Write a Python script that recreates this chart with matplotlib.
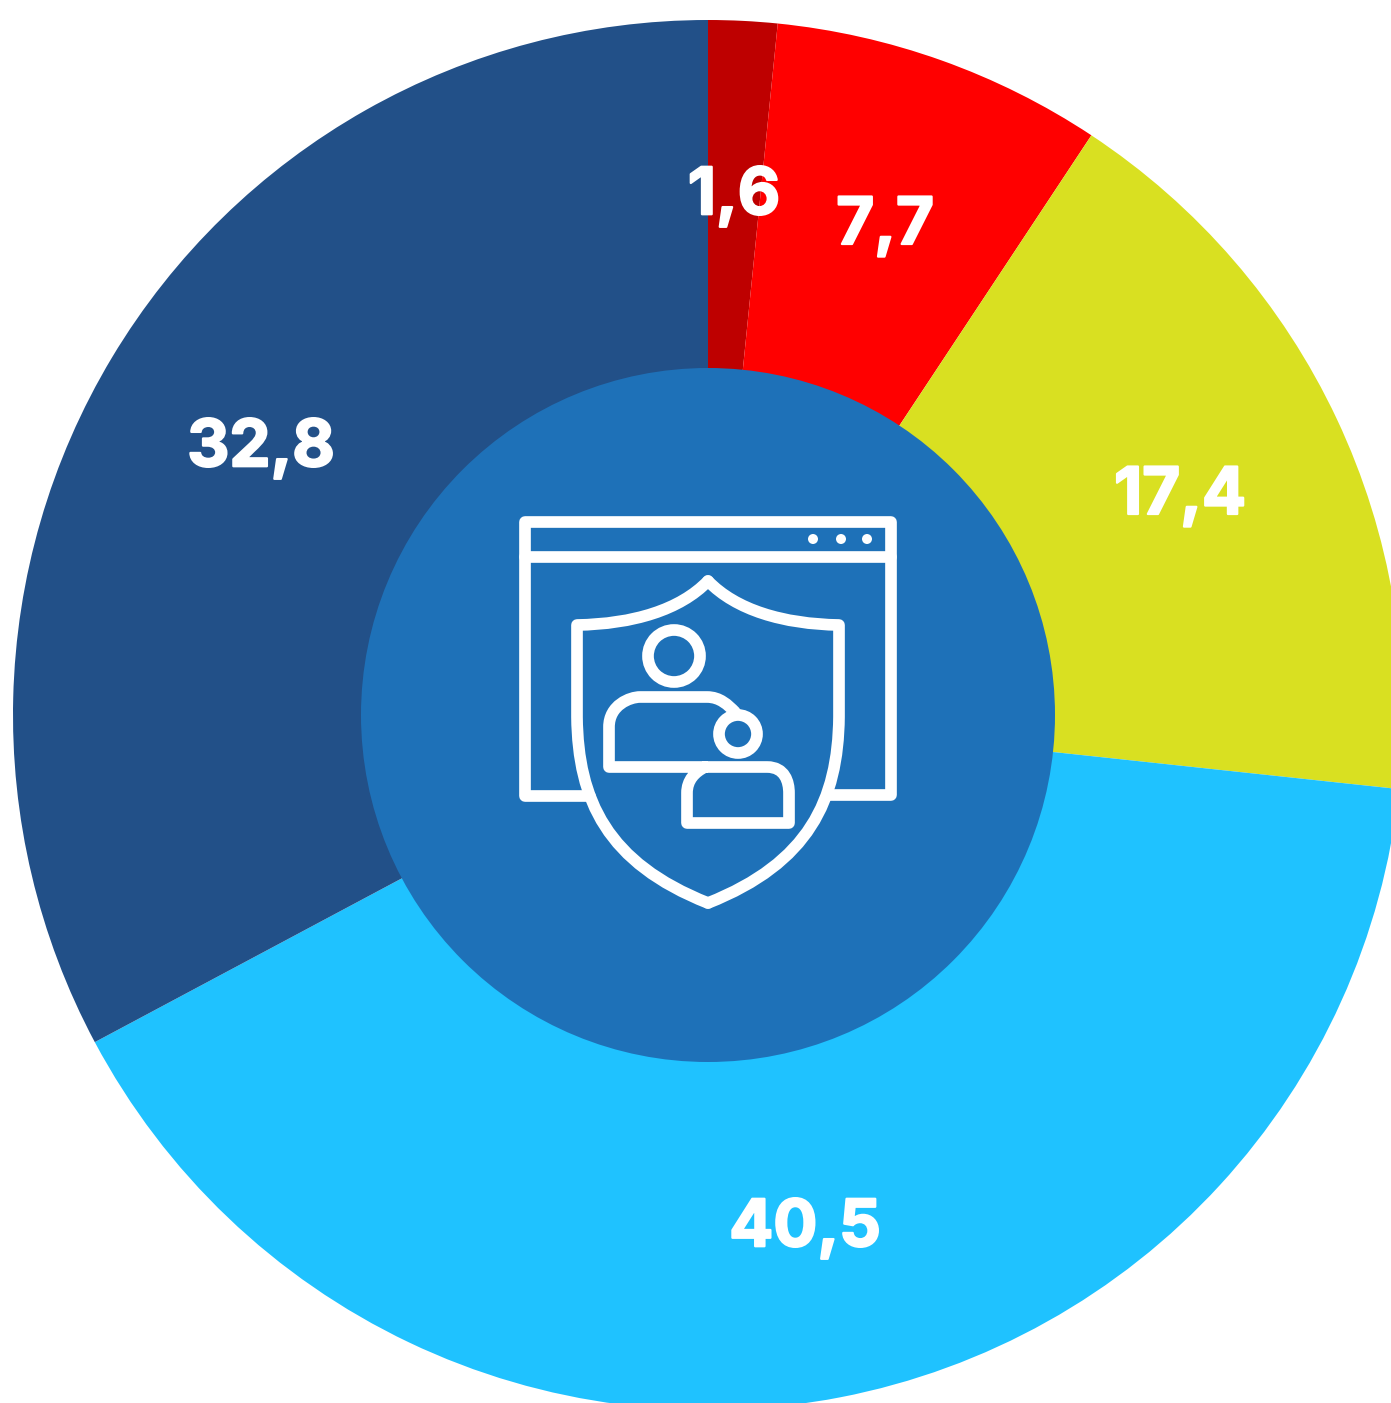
import matplotlib
matplotlib.use('Agg')
import matplotlib.pyplot as plt
import matplotlib.patheffects as pe
from matplotlib.path import Path
from matplotlib.patches import PathPatch, Circle

# clockwise from 12 o'clock
labels = ["1,6", "7,7", "17,4", "40,5", "32,8"]
values = [1.6, 7.7, 17.4, 40.5, 32.8]
colors = ["#BE0000", "#FF0000", "#D9E021", "#1FC2FF", "#225088"]
label_pos = [(734, 197), (885, 227), (1180, 497), (805, 1229), (261, 449)]

W, H = 1391, 1403
CX, CY = 708, 715
R_OUT, R_IN = 695, 347
HOLE = "#1E71B8"
ICON_LW = 8.4

M = Path.MOVETO
L = Path.LINETO
C = Path.CURVE4


def stroke(ax, pts, codes):
    # picture coordinates have y going down
    path = Path([(x, H - y) for x, y in pts], codes)
    ax.add_patch(PathPatch(path, fill=False, ec="white", lw=ICON_LW, capstyle="round",
                           joinstyle="round", zorder=5))


def ring(ax, x, y, r):
    ax.add_patch(Circle((x, H - y), r, fc="none", ec="white", lw=ICON_LW, zorder=5))


fig = plt.figure(figsize=(W / 100, H / 100), dpi=100)
ax = fig.add_axes([0, 0, 1, 1])
ax.pie(values, colors=colors, startangle=90, counterclock=False, center=(CX, H - CY), radius=R_OUT,
       wedgeprops={"linewidth": 0}, frame=True)
ax.add_patch(Circle((CX, H - CY), R_IN, fc=HOLE, ec="none", zorder=3))
ax.set_xlim(0, W)
ax.set_ylim(0, H)
ax.set_aspect("equal")
ax.axis("off")

for text, (x, y) in zip(labels, label_pos):
    t = ax.text(x, H - y, text, color="white", fontsize=47, fontweight="bold", family="Inter",
                ha="center", va="center", zorder=6)
    # the original face is heavier than Inter Bold
    t.set_path_effects([pe.withStroke(linewidth=1.6, foreground="white")])

# browser window
stroke(ax, [(590, 796), (525, 796), (525, 522), (891, 522), (891, 795), (828, 795)], [M, L, L, L, L, L])
stroke(ax, [(525, 557), (891, 557)], [M, L])
for x in (813, 841, 867):
    ax.add_patch(Circle((x, H - 539), 5, fc="white", ec="none", zorder=5))

# shield, left half then right half
half = [(708, 581), (680, 610), (633, 624), (577, 625), (577, 717), (578, 800), (607, 863), (708, 903)]
half_codes = [M, C, C, C, L, C, C, C]
stroke(ax, half, half_codes)
stroke(ax, [(2 * 708 - x, y) for x, y in half], half_codes)

# people
ring(ax, 674, 656, 26)
ring(ax, 738, 734, 19)
stroke(ax, [(735, 712), (728, 705), (720, 697), (707, 697), (640, 697), (630, 697), (609, 705), (609, 727),
            (609, 767), (767, 767), (785, 767), (789, 782), (789, 793), (789, 823), (687, 823), (687, 793),
            (687, 780), (695, 772), (705, 767)],
       [M, C, C, C, L, C, C, C, L, L, C, C, C, L, L, L, C, C, C])

fig.savefig("out.png", dpi=100, facecolor="white")
